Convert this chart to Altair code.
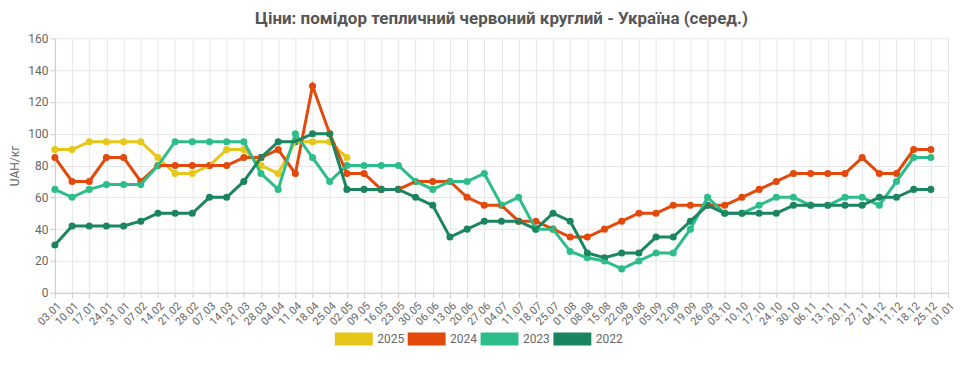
import altair as alt
import pandas as pd

dates = ["03.01", "10.01", "17.01", "24.01", "31.01", "07.02", "14.02", "21.02", "28.02",
         "07.03", "14.03", "21.03", "28.03", "04.04", "11.04", "18.04", "25.04", "02.05",
         "09.05", "16.05", "23.05", "30.05", "06.06", "13.06", "20.06", "27.06", "04.07",
         "11.07", "18.07", "25.07", "01.08", "08.08", "15.08", "22.08", "29.08", "05.09",
         "12.09", "19.09", "26.09", "03.10", "10.10", "17.10", "24.10", "30.10", "06.11",
         "13.11", "20.11", "27.11", "04.12", "11.12", "18.12", "25.12", "01.01"]

years = ["2025", "2024", "2023", "2022"]
colors = ["#e6c619", "#e2490b", "#2dbd8a", "#1b8461"]

v2025 = [90, 90, 95, 95, 95, 95, 85, 75, 75, 80, 90, 90, 80, 75, 95, 95, 95, 85]
v2024 = [85, 70, 70, 85, 85, 70, 80, 80, 80, 80, 80, 85, 85, 90, 75, 130, 100, 75,
         75, 65, 65, 70, 70, 70, 60, 55, 55, 45, 45, 40, 35, 35, 40, 45, 50, 50,
         55, 55, 55, 55, 60, 65, 70, 75, 75, 75, 75, 85, 75, 75, 90, 90]
v2023 = [65, 60, 65, 68, 68, 68, 80, 95, 95, 95, 95, 95, 75, 65, 100, 85, 70, 80,
         80, 80, 80, 70, 65, 70, 70, 75, 55, 60, 40, 40, 26, 22, 20, 15, 20, 25,
         25, 40, 60, 50, 50, 55, 60, 60, 55, 55, 60, 60, 55, 70, 85, 85]
v2022 = [30, 42, 42, 42, 42, 45, 50, 50, 50, 60, 60, 70, 85, 95, 95, 100, 100, 65,
         65, 65, 65, 60, 55, 35, 40, 45, 45, 45, 40, 50, 45, 25, 22, 25, 25, 35,
         35, 45, 55, 50, 50, 50, 50, 55, 55, 55, 55, 55, 60, 60, 65, 65]

series = {"2025": v2025, "2024": v2024, "2023": v2023, "2022": v2022}
rows = []
for y, vals in series.items():
    for i, v in enumerate(vals):
        rows.append({"date": dates[i], "year": y, "value": v})
df = pd.DataFrame(rows)

x = alt.X("date:N", sort=dates,
          scale=alt.Scale(type="point", padding=0, domain=dates),
          axis=alt.Axis(title=None, labelAngle=-45, grid=True, labelFontSize=11,
                        labelColor="#666", tickColor="#ccc", domainColor="#ccc",
                        gridColor="#e6e6e6", labelOverlap=False, labelPadding=2))
y = alt.Y("value:Q", scale=alt.Scale(domain=[0, 160]),
          axis=alt.Axis(title="UAH/кг", values=list(range(0, 161, 20)), grid=True,
                        labelFontSize=12, labelColor="#666", titleColor="#666",
                        titleFontSize=12, titleFontWeight="normal", tickColor="#ccc",
                        domainColor="#ccc", gridColor="#e6e6e6", titlePadding=6))
color = alt.Color("year:N", scale=alt.Scale(domain=years, range=colors),
                  legend=alt.Legend(title=None, orient="none", direction="horizontal",
                                    legendX=309, legendY=295,
                                    symbolType="M-9.74,-1.84H1V1.84H-9.74Z", symbolSize=50,
                                    symbolStrokeWidth=0, labelFontSize=12, labelOffset=2,
                                    labelColor="#666", columnPadding=3))

base = alt.Chart(df).encode(x=x, y=y, color=color)
points = base.mark_point(filled=True, size=50, opacity=1)
lines = base.mark_line(strokeWidth=3)

chart = alt.layer(points, lines).properties(
    width=895, height=255,
    padding={"left": 0, "top": 2, "right": 5, "bottom": 0},
    title=alt.TitleParams("Ціни: помідор тепличний червоний круглий - Україна (серед.)",
                          fontSize=17, fontWeight="bold", color="#555", font="Roboto",
                          anchor="middle", offset=4),
).configure(font="Roboto").configure_view(stroke=None)

chart.save("out.html", embed_options={"renderer": "svg", "actions": False})
